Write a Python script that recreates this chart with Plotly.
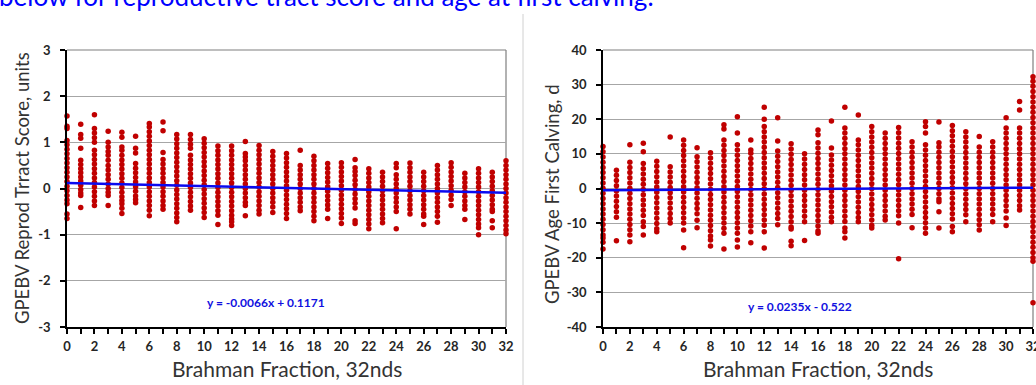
import plotly.graph_objects as go

W, H = 1036, 385

# ---------------- data ----------------
BRAHMAN_32NDS = [0, 1, 2, 3, 4, 5, 6, 7, 8, 9, 10, 11, 12, 13, 14, 15, 16,
                 17, 18, 19, 20, 21, 22, 23, 24, 25, 26, 27, 28, 29, 30, 31, 32]
X_TICK_VALUES = [0, 2, 4, 6, 8, 10, 12, 14, 16, 18, 20, 22, 24, 26, 28, 30, 32]
RTS_TICK_VALUES = [-3, -2, -1, 0, 1, 2, 3]
AFC_TICK_VALUES = [-40, -30, -20, -10, 0, 10, 20, 30, 40]

# GPEBV reproductive tract score (units), one list per Brahman fraction
RTS_GPEBV = [
    [1.57, 1.35, 1.30, 1.04, 0.95, 0.85, 0.75, 0.65, 0.55, 0.45, 0.35, 0.25, 0.15, 0.05, -0.05, -0.15, -0.25, -0.33, -0.55, -0.65],
    [1.39, 1.17, 1.09, 0.87, 0.61, 0.52, 0.43, 0.34, 0.25, 0.16, 0.07, -0.02, -0.10, -0.15, -0.41],
    [1.60, 1.30, 1.20, 1.10, 1.00, 0.83, 0.73, 0.63, 0.53, 0.43, 0.33, 0.23, 0.13, 0.03, -0.07, -0.17, -0.27, -0.37],
    [1.24, 1.00, 0.90, 0.80, 0.72, 0.61, 0.50, 0.40, 0.30, 0.20, 0.10, 0.00, -0.08, -0.15, -0.37],
    [1.22, 1.11, 0.90, 0.83, 0.72, 0.62, 0.52, 0.42, 0.32, 0.22, 0.12, 0.02, -0.08, -0.18, -0.26, -0.33, -0.43, -0.54],
    [1.13, 0.87, 0.77, 0.54, 0.44, 0.34, 0.24, 0.14, 0.04, -0.06, -0.16, -0.24, -0.31],
    [1.41, 1.33, 1.23, 1.13, 1.03, 0.93, 0.83, 0.73, 0.63, 0.53, 0.43, 0.33, 0.23, 0.13, 0.03, -0.07, -0.17, -0.27, -0.37, -0.47, -0.59],
    [1.44, 1.25, 0.78, 0.63, 0.53, 0.43, 0.33, 0.23, 0.13, 0.03, -0.07, -0.17, -0.27, -0.37, -0.45],
    [1.17, 1.07, 0.97, 0.87, 0.77, 0.67, 0.57, 0.47, 0.37, 0.27, 0.17, 0.07, -0.03, -0.13, -0.23, -0.33, -0.43, -0.53, -0.63, -0.72],
    [1.17, 1.06, 0.96, 0.87, 0.72, 0.62, 0.52, 0.42, 0.32, 0.22, 0.12, 0.02, -0.08, -0.18, -0.28, -0.38, -0.47],
    [1.08, 0.98, 0.88, 0.78, 0.68, 0.58, 0.48, 0.38, 0.28, 0.18, 0.08, -0.02, -0.12, -0.22, -0.32, -0.42, -0.52, -0.63],
    [0.92, 0.82, 0.72, 0.62, 0.52, 0.42, 0.32, 0.22, 0.12, 0.02, -0.08, -0.18, -0.28, -0.38, -0.48, -0.58, -0.78],
    [0.92, 0.82, 0.72, 0.62, 0.52, 0.42, 0.32, 0.22, 0.12, 0.02, -0.08, -0.18, -0.28, -0.38, -0.48, -0.58, -0.66, -0.72, -0.80],
    [1.02, 0.76, 0.68, 0.60, 0.50, 0.40, 0.30, 0.20, 0.10, 0.00, -0.10, -0.20, -0.30, -0.37, -0.59],
    [0.93, 0.83, 0.73, 0.63, 0.53, 0.43, 0.33, 0.23, 0.13, 0.03, -0.07, -0.17, -0.27, -0.37, -0.47, -0.55],
    [0.80, 0.70, 0.60, 0.50, 0.40, 0.30, 0.20, 0.10, 0.00, -0.10, -0.20, -0.30, -0.40, -0.52],
    [0.76, 0.66, 0.56, 0.46, 0.36, 0.26, 0.16, 0.06, -0.04, -0.14, -0.24, -0.34, -0.44, -0.54, -0.65],
    [0.83, 0.50, 0.40, 0.30, 0.20, 0.10, 0.00, -0.10, -0.20, -0.30, -0.40, -0.48],
    [0.70, 0.60, 0.50, 0.40, 0.30, 0.20, 0.10, 0.00, -0.10, -0.20, -0.30, -0.40, -0.50, -0.60, -0.70],
    [0.54, 0.44, 0.34, 0.24, 0.14, 0.04, -0.06, -0.16, -0.26, -0.36, -0.45, -0.65],
    [0.56, 0.46, 0.36, 0.26, 0.16, 0.06, -0.04, -0.14, -0.24, -0.34, -0.44, -0.54, -0.64, -0.76],
    [0.63, 0.45, 0.37, 0.28, 0.18, 0.08, -0.02, -0.12, -0.22, -0.32, -0.42, -0.70, -0.76],
    [0.43, 0.33, 0.23, 0.13, 0.03, -0.07, -0.17, -0.27, -0.37, -0.47, -0.57, -0.67, -0.77, -0.87],
    [0.35, 0.25, 0.15, 0.05, -0.05, -0.15, -0.25, -0.35, -0.45, -0.55, -0.65, -0.74],
    [0.54, 0.45, 0.30, 0.20, 0.10, 0.00, -0.10, -0.20, -0.30, -0.40, -0.50, -0.87],
    [0.55, 0.45, 0.35, 0.25, 0.15, 0.05, -0.05, -0.15, -0.25, -0.35, -0.45, -0.55],
    [0.35, 0.25, 0.15, 0.05, -0.05, -0.15, -0.25, -0.35, -0.45, -0.55, -0.60, -0.78],
    [0.50, 0.40, 0.30, 0.20, 0.10, 0.00, -0.10, -0.20, -0.30, -0.40, -0.50, -0.60, -0.73],
    [0.56, 0.46, 0.36, 0.26, 0.16, 0.06, -0.04, -0.14, -0.24, -0.37],
    [0.33, 0.23, 0.13, 0.03, -0.07, -0.17, -0.27, -0.37, -0.45, -0.67],
    [0.43, 0.33, 0.23, 0.13, 0.03, -0.07, -0.17, -0.27, -0.37, -0.47, -0.57, -0.67, -0.77, -0.85, -1.00],
    [0.35, 0.25, 0.15, 0.05, -0.05, -0.15, -0.25, -0.35, -0.45, -0.50, -0.70, -0.85],
    [0.60, 0.50, 0.40, 0.30, 0.20, 0.10, 0.00, -0.10, -0.20, -0.30, -0.40, -0.50, -0.60, -0.70, -0.80, -0.90, -0.98],
]

# GPEBV age at first calving (d), one list per Brahman fraction
AFC_GPEBV = [
    [12.1, 10.6, 9.1, 7.6, 6.1, 4.6, 3.1, 1.6, 0.1, -1.4, -2.9, -4.4, -5.9, -7.4, -8.9, -10.4, -11.9, -13.4, -14.3, -15.5, -17.5],
    [5.3, 3.8, 2.3, 0.8, -0.7, -2.2, -3.7, -5.2, -6.7, -8.3, -15.1],
    [12.6, 7.6, 6.1, 4.6, 3.1, 1.6, 0.1, -1.4, -2.9, -4.4, -5.9, -7.4, -8.9, -10.4, -11.9, -13.4, -15.4],
    [13.1, 10.6, 7.2, 5.7, 4.2, 2.7, 1.2, -0.3, -1.8, -3.3, -4.8, -6.3, -7.8, -9.6, -11.0, -13.4],
    [7.9, 6.4, 4.9, 3.4, 1.9, 0.4, -1.1, -2.6, -4.1, -5.6, -7.1, -8.6, -10.1, -11.6, -12.5],
    [14.9, 6.3, 4.8, 3.3, 1.8, 0.3, -1.2, -2.7, -4.2, -5.7, -7.2, -8.7, -10.0],
    [14.0, 12.5, 11.0, 9.5, 8.0, 6.5, 5.0, 3.5, 2.0, 0.5, -1.0, -2.5, -4.0, -5.5, -7.0, -8.5, -10.0, -12.0, -17.1],
    [11.8, 9.2, 7.7, 6.2, 4.7, 3.2, 1.7, 0.2, -1.3, -2.8, -4.3, -5.8, -7.3, -9.2, -11.3],
    [10.3, 8.8, 7.3, 5.8, 4.3, 2.8, 1.3, -0.2, -1.7, -3.2, -4.7, -6.2, -7.7, -9.2, -10.7, -12.2, -13.7, -14.9, -16.6],
    [18.4, 17.2, 14.0, 12.5, 11.0, 9.5, 8.0, 6.5, 5.0, 3.5, 2.0, 0.5, -1.0, -2.5, -4.0, -5.5, -7.0, -8.5, -10.0, -11.5, -12.9, -17.5],
    [20.7, 16.0, 12.6, 11.1, 9.6, 8.1, 6.6, 5.1, 3.6, 2.1, 0.6, -0.9, -2.4, -3.9, -5.4, -6.9, -8.4, -9.9, -11.4, -12.9, -14.9, -16.9],
    [14.0, 11.1, 10.2, 8.7, 7.2, 5.7, 4.2, 2.7, 1.2, -0.3, -1.8, -3.3, -4.8, -6.3, -7.8, -9.3, -10.8, -12.5, -15.7],
    [23.5, 20.0, 17.9, 16.4, 14.9, 13.4, 11.9, 10.4, 8.9, 7.4, 5.9, 4.4, 2.9, 1.4, -0.1, -1.6, -3.1, -4.6, -6.1, -7.6, -9.1, -10.6, -12.5, -17.2],
    [20.4, 13.7, 10.8, 9.3, 7.8, 6.3, 4.8, 3.3, 1.8, 0.3, -1.2, -2.7, -4.2, -5.7, -7.2, -8.7, -10.5],
    [12.9, 11.4, 9.9, 8.4, 6.9, 5.4, 3.9, 2.4, 0.9, -0.6, -2.1, -3.6, -5.1, -6.6, -8.1, -9.6, -11.1, -11.7, -15.2, -16.5],
    [10.0, 8.5, 7.0, 5.5, 4.0, 2.5, 1.0, -0.5, -2.0, -3.5, -5.0, -6.5, -8.0, -9.6, -15.0],
    [16.9, 15.5, 13.2, 11.7, 10.2, 8.7, 7.2, 5.7, 4.2, 2.7, 1.2, -0.3, -1.8, -3.3, -4.8, -6.3, -7.8, -9.3, -10.8, -12.3, -12.9],
    [19.5, 11.7, 9.7, 8.2, 6.7, 5.2, 3.7, 2.2, 0.7, -0.8, -2.3, -3.8, -5.3, -6.8, -8.3, -9.6],
    [23.5, 17.5, 16.0, 14.5, 13.0, 11.5, 10.0, 8.5, 7.0, 5.5, 4.0, 2.5, 1.0, -0.5, -2.0, -3.5, -5.0, -6.5, -8.0, -9.5, -11.4, -12.5, -14.3],
    [21.2, 14.0, 12.6, 11.1, 9.6, 8.1, 6.6, 5.1, 3.6, 2.1, 0.6, -0.9, -2.4, -3.9, -5.4, -6.9, -8.4, -9.6],
    [17.9, 16.4, 14.9, 13.4, 11.9, 10.4, 8.9, 7.4, 5.9, 4.4, 2.9, 1.4, -0.1, -1.6, -3.1, -4.6, -6.1, -7.6, -9.1, -10.6, -11.4],
    [16.0, 14.5, 13.0, 11.5, 10.0, 8.5, 7.0, 5.5, 4.0, 2.5, 1.0, -0.5, -2.0, -3.5, -5.0, -6.5, -8.0, -9.1],
    [17.6, 16.1, 14.6, 13.1, 11.6, 10.1, 8.6, 7.1, 5.6, 4.1, 2.6, 1.1, -0.4, -1.9, -3.4, -4.9, -6.4, -7.9, -10.0, -20.3],
    [13.5, 12.0, 10.5, 9.0, 7.5, 6.0, 4.5, 3.0, 1.5, 0.0, -1.5, -3.0, -4.5, -6.0, -7.5, -11.3],
    [19.3, 17.9, 16.0, 12.6, 11.1, 9.6, 8.1, 6.6, 5.1, 3.6, 2.1, 0.6, -0.9, -2.4, -3.9, -5.4, -6.9, -8.4, -9.9, -11.4, -12.9],
    [19.2, 13.2, 12.0, 10.5, 9.0, 7.5, 6.0, 4.5, 3.0, 1.5, 0.0, -1.5, -3.0, -3.8, -6.7, -11.4],
    [18.2, 16.7, 15.2, 13.7, 12.2, 10.7, 9.2, 7.7, 6.2, 4.7, 3.2, 1.7, 0.2, -1.3, -2.8, -4.3, -5.8, -7.3, -8.8, -11.0, -12.5],
    [16.4, 14.9, 13.4, 11.9, 10.4, 8.9, 7.4, 5.9, 4.4, 2.9, 1.4, -0.1, -1.6, -3.1, -4.6, -6.1, -7.6, -9.6],
    [15.0, 12.0, 10.5, 9.0, 7.5, 6.0, 4.5, 3.0, 1.5, 0.0, -1.5, -3.0, -4.5, -6.0, -7.5, -9.0, -10.5, -12.0],
    [13.5, 12.0, 10.5, 9.0, 7.5, 6.0, 4.5, 3.0, 1.5, 0.0, -1.5, -3.0, -4.5, -6.0, -7.5, -9.6],
    [20.4, 17.5, 16.0, 14.5, 13.0, 11.5, 10.0, 8.5, 7.0, 5.5, 4.0, 2.5, 1.0, -0.5, -2.0, -3.5, -5.0, -6.5, -8.5, -10.7],
    [25.1, 22.7, 17.5, 16.0, 14.5, 13.0, 11.5, 10.0, 8.5, 7.0, 5.5, 4.0, 2.5, 1.0, -0.5, -2.0, -3.5, -5.0, -6.2],
    [32.3, 31.0, 29.5, 28.0, 26.5, 25.0, 23.5, 22.0, 20.5, 19.0, 17.5, 16.0, 14.5, 13.0, 11.5, 10.0, 8.5, 7.0, 5.5, 4.0, 2.5, 1.0,
     -0.5, -2.0, -3.5, -5.0, -6.5, -8.0, -9.5, -11.0, -12.5, -14.0, -15.5, -17.0, -18.5, -20.0, -21.0, -33.0],
]

# Linear trendlines (slope, intercept) as printed on the charts
RTS_TREND = (-0.0066, 0.1171)
AFC_TREND = (0.0235, -0.522)
RTS_EQ = "y = -0.0066x + 0.1171"
AFC_EQ = "y = 0.0235x - 0.522"

HEADER = "below for reproductive tract score and age at first calving."

# ---------------- styling ----------------
FONT = "Lato"
RED = "#C00000"
BLUE = "#0A0AF0"
TXT = "#262626"
GRID = "#A6A6A6"


def px_x(p):
    return p / W


def px_y(p):
    return 1 - p / H


# plot areas in pixels
L_X0, L_X1 = 67, 506
R_X0, R_X1 = 603, 1033
Y_TOP, Y_BOT = 50, 327

fig = go.Figure()


def flatten(cols):
    xs, ys = [], []
    for xv, col in zip(BRAHMAN_32NDS, cols):
        for v in col:
            xs.append(xv)
            ys.append(v)
    return xs, ys


for cols, trend, xa, ya in [(RTS_GPEBV, RTS_TREND, "x", "y"), (AFC_GPEBV, AFC_TREND, "x2", "y2")]:
    xs, ys = flatten(cols)
    fig.add_trace(go.Scatter(x=xs, y=ys, mode="markers", xaxis=xa, yaxis=ya,
                             marker=dict(color=RED, size=5.5, symbol="circle", line=dict(width=0)),
                             cliponaxis=False, showlegend=False, hoverinfo="skip"))
    x0, x1 = BRAHMAN_32NDS[0], BRAHMAN_32NDS[-1]
    fig.add_trace(go.Scatter(x=[x0, x1], y=[trend[0] * x0 + trend[1], trend[0] * x1 + trend[1]],
                             mode="lines", xaxis=xa, yaxis=ya, cliponaxis=False,
                             line=dict(color=BLUE, width=2.5), showlegend=False, hoverinfo="skip"))

TICK_FONT = dict(family=FONT, size=13, color=TXT, weight="bold")
ydom = [px_y(Y_BOT), px_y(Y_TOP)]
xcommon = dict(range=[0, 32], tickvals=X_TICK_VALUES, ticks="outside", ticklen=5, tickwidth=1.5,
               tickcolor="#000000", showline=True, linecolor="#000000", linewidth=1.5,
               showgrid=False, zeroline=False, tickfont=TICK_FONT, ticklabelstandoff=2,
               automargin=False, ticklabeloverflow="allow",
               minor=dict(dtick=1, ticks="outside", ticklen=5, tickcolor="#000000", tickwidth=1.5, showgrid=False))
ycommon = dict(ticks="outside", ticklen=5, tickwidth=1.5, tickcolor="#000000",
               showline=True, linecolor="#000000", linewidth=1.5,
               showgrid=True, gridcolor=GRID, gridwidth=1, zeroline=False,
               tickfont=TICK_FONT, ticklabelstandoff=7, automargin=False)

fig.update_layout(
    width=W, height=H, margin=dict(l=0, r=0, t=0, b=0, autoexpand=False),
    paper_bgcolor="white", plot_bgcolor="white",
    xaxis=dict(domain=[px_x(L_X0), px_x(L_X1)], anchor="y", **xcommon),
    yaxis=dict(domain=ydom, anchor="x", range=[RTS_TICK_VALUES[0], RTS_TICK_VALUES[-1]],
               tickvals=RTS_TICK_VALUES, ticktext=[str(v) for v in RTS_TICK_VALUES], **ycommon),
    xaxis2=dict(domain=[px_x(R_X0), px_x(R_X1)], anchor="y2", **xcommon),
    yaxis2=dict(domain=ydom, anchor="x2", range=[AFC_TICK_VALUES[0], AFC_TICK_VALUES[-1]],
                tickvals=AFC_TICK_VALUES, ticktext=[str(v) for v in AFC_TICK_VALUES], **ycommon),
)

shapes = []
for x0, x1 in [(L_X0, L_X1), (R_X0, R_X1)]:
    # top and right borders (grey)
    shapes.append(dict(type="line", xref="paper", yref="paper", x0=px_x(x0), x1=px_x(x1),
                       y0=px_y(Y_TOP), y1=px_y(Y_TOP), line=dict(color="#7F7F7F", width=1.2)))
    shapes.append(dict(type="line", xref="paper", yref="paper", x0=px_x(x1), x1=px_x(x1),
                       y0=px_y(Y_TOP), y1=px_y(Y_BOT), line=dict(color="#7F7F7F", width=1.2),
                       layer="below"))
# divider between the two charts
shapes.append(dict(type="line", xref="paper", yref="paper", x0=px_x(523), x1=px_x(523),
                   y0=0, y1=px_y(14), line=dict(color="#D0D0D0", width=1)))
fig.update_layout(shapes=shapes)

ann = []
XT_FONT = dict(family=FONT, size=21, color="#333333")
YT_FONT = dict(family=FONT, size=18.5, color="#333333")
ann.append(dict(text="Brahman Fraction, 32nds", x=px_x((L_X0 + L_X1) / 2), y=px_y(368),
                xref="paper", yref="paper", showarrow=False, font=XT_FONT,
                xanchor="center", yanchor="middle"))
ann.append(dict(text="Brahman Fraction, 32nds", x=px_x((R_X0 + R_X1) / 2), y=px_y(368),
                xref="paper", yref="paper", showarrow=False, font=XT_FONT,
                xanchor="center", yanchor="middle"))
ann.append(dict(text="GPEBV Reprod Trract Score, units", x=px_x(22), y=px_y(188),
                xref="paper", yref="paper", showarrow=False, font=YT_FONT, textangle=-90,
                xanchor="center", yanchor="middle"))
ann.append(dict(text="GPEBV Age First Calving, d", x=px_x(552), y=px_y(194),
                xref="paper", yref="paper", showarrow=False, font=YT_FONT, textangle=-90,
                xanchor="center", yanchor="middle"))
EQ_FONT = dict(family=FONT, size=12, color="#1010E0", weight="bold")
ann.append(dict(text=RTS_EQ, x=px_x(266), y=px_y(302), xref="paper", yref="paper",
                showarrow=False, font=EQ_FONT, xanchor="center", yanchor="middle"))
ann.append(dict(text=AFC_EQ, x=px_x(800), y=px_y(306), xref="paper", yref="paper",
                showarrow=False, font=EQ_FONT, xanchor="center", yanchor="middle"))
ann.append(dict(text=HEADER, x=px_x(-3), y=1, yshift=22, xref="paper", yref="paper",
                showarrow=False, font=dict(family=FONT, size=26, color="#0000FF"),
                xanchor="left", yanchor="top"))
fig.update_layout(annotations=ann)

# place the figure at the top-left corner of the page (no default body margin)
fig.write_html("out.html", config={"displayModeBar": False},
               post_script="document.body.style.margin='0px';document.body.style.overflow='hidden';")
